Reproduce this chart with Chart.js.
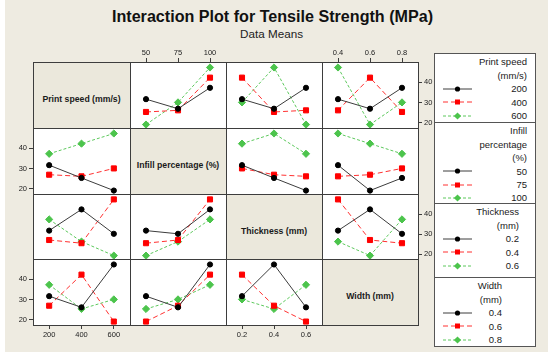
<!DOCTYPE html>
<html>
<head>
<meta charset="utf-8">
<script src="https://cdn.jsdelivr.net/npm/chart.js@4.4.1/dist/chart.umd.min.js"></script>
<style>
  html, body { margin: 0; padding: 0; }
  body { width: 550px; height: 357px; position: relative; overflow: hidden; background: #ffffff; font-family: "Liberation Sans", Arial, sans-serif; }
  .abs { position: absolute; }
  #panel { left: 5px; top: 0; width: 543px; height: 352px; background: #eeebe1; }
  .cell { position: absolute; background: #ffffff; }
  .diag { background: #ebe8dc; }
  .hl { position: absolute; height: 1px; background: #3d3d3d; }
  .vl { position: absolute; width: 1px; background: #3d3d3d; }
  .dlabel { position: absolute; text-align: center; font-weight: bold; font-size: 8.7px; line-height: 8.7px; color: #1a1a1a; white-space: nowrap; }
  .ltext { position: absolute; font-size: 9.5px; line-height: 9.5px; color: #1a1a1a; white-space: nowrap; text-align: right; }
  canvas { position: absolute; }
</style>
</head>
<body>
<div id="panel" class="abs"></div>
<div id="title" class="abs" style="left:0;width:545px;text-align:center;top:7.5px;font-weight:bold;font-size:16px;line-height:16px;color:#111;"><span id="titleSpan">Interaction Plot for Tensile Strength (MPa)</span></div>
<div id="sub" class="abs" style="left:0;width:543px;text-align:center;top:27.7px;font-size:11px;line-height:11px;color:#222;"><span id="subSpan">Data Means</span></div>
<div id="grid"></div>
<div id="legend"></div>
<script>
// ---------------- data ----------------
const factorNames = ['Print speed (mm/s)', 'Infill percentage (%)', 'Thickness (mm)', 'Width (mm)'];
const speedLevels = ['200', '400', '600'];
const infillLevels = ['50', '75', '100'];
const thicknessLevels = ['0.2', '0.4', '0.6'];
const widthLevels = ['0.4', '0.6', '0.8'];
const yTicks = [20, 30, 40];

// lines = levels of the row factor, x = levels of the column factor
const speedByInfill      = [[31.7, 27.0, 37.3], [25.4, 26.2, 42.3], [19.2, 30.1, 47.3]];
const speedByThickness   = [[31.7, 27.0, 37.3], [42.3, 25.4, 26.2], [30.1, 47.3, 19.2]];
const speedByWidth       = [[31.7, 27.0, 37.3], [26.2, 42.3, 25.4], [47.3, 19.2, 30.1]];
const infillBySpeed      = [[31.7, 25.4, 19.2], [27.0, 26.2, 30.1], [37.3, 42.3, 47.3]];
const infillByThickness  = [[31.7, 25.4, 19.2], [30.1, 27.0, 26.2], [42.3, 47.3, 37.3]];
const infillByWidth      = [[31.7, 19.2, 25.4], [26.2, 27.0, 30.1], [47.3, 42.3, 37.3]];
const thicknessBySpeed   = [[31.7, 42.3, 30.1], [27.0, 25.4, 47.3], [37.3, 26.2, 19.2]];
const thicknessByInfill  = [[31.7, 30.1, 42.3], [25.4, 27.0, 47.3], [19.2, 26.2, 37.3]];
const thicknessByWidth   = [[31.7, 42.3, 30.1], [47.3, 27.0, 25.4], [26.2, 19.2, 37.3]];
const widthBySpeed       = [[31.7, 26.2, 47.3], [27.0, 42.3, 19.2], [37.3, 25.4, 30.1]];
const widthByInfill      = [[31.7, 26.2, 47.3], [19.2, 27.0, 42.3], [25.4, 30.1, 37.3]];
const widthByThickness   = [[31.7, 47.3, 26.2], [42.3, 27.0, 19.2], [30.1, 25.4, 37.3]];

const legendTitles = [['Print speed', '(mm/s)'], ['Infill', 'percentage', '(%)'], ['Thickness', '(mm)'], ['Width', '(mm)']];

// ---------------- styles / layout ----------------
const levels = [speedLevels, infillLevels, thicknessLevels, widthLevels];
const cellData = [
  [null, speedByInfill, speedByThickness, speedByWidth],
  [infillBySpeed, null, infillByThickness, infillByWidth],
  [thicknessBySpeed, thicknessByInfill, null, thicknessByWidth],
  [widthBySpeed, widthByInfill, widthByThickness, null]
];
const XS = [33, 130, 226, 322, 418];
const YS = [62, 128, 194, 259, 325];
const Y_MIN = 17.5, Y_MAX = 50;
const AX_W = 30, AX_H = 20;
const LINE_COLORS = ['#3c3c3c', '#ff3030', '#5cc85c'];
const MARK_COLORS = ['#000000', '#ff0000', '#4cc44c'];
const STYLES = ['circle', 'rect', 'rectRot'];
const RADII = [2.6, 3.6, 3.6];
const DASHES = [[], [5, 3], [3, 2]];
const TICK_FONT = { family: '"Liberation Sans", Arial, sans-serif', size: 7.5 };

const grid = document.getElementById('grid');
for (let r = 0; r < 4; r++) {
  for (let c = 0; c < 4; c++) {
    const d = document.createElement('div');
    d.className = 'cell' + (r === c ? ' diag' : '');
    d.style.left = XS[c] + 'px'; d.style.top = YS[r] + 'px';
    d.style.width = (XS[c + 1] - XS[c]) + 'px'; d.style.height = (YS[r + 1] - YS[r]) + 'px';
    grid.appendChild(d);
  }
}
for (let i = 0; i < 5; i++) {
  const h = document.createElement('div'); h.className = 'hl';
  h.style.left = XS[0] + 'px'; h.style.width = (XS[4] - XS[0] + 1) + 'px'; h.style.top = YS[i] + 'px';
  grid.appendChild(h);
  const v = document.createElement('div'); v.className = 'vl';
  v.style.top = YS[0] + 'px'; v.style.height = (YS[4] - YS[0] + 1) + 'px'; v.style.left = XS[i] + 'px';
  grid.appendChild(v);
}
const diagCenters = [99.3, 165, 231, 296.7];
for (let i = 0; i < 4; i++) {
  const d = document.createElement('div'); d.className = 'dlabel';
  d.textContent = factorNames[i];
  d.style.left = XS[i] + 'px'; d.style.width = (XS[i + 1] - XS[i]) + 'px';
  d.style.top = (diagCenters[i] - 4.3) + 'px';
  grid.appendChild(d);
}

function makeCell(r, c) {
  const series = cellData[r][c];
  const showTop = r === 0 && (c === 1 || c === 3);
  const showBottom = r === 3 && (c === 0 || c === 2);
  const showLeft = c === 0 && (r === 1 || r === 3);
  const showRight = c === 3 && (r === 0 || r === 2);
  const showX = showTop || showBottom, showY = showLeft || showRight;
  const L = showLeft ? AX_W : 0, R = showRight ? AX_W : 0, T = showTop ? AX_H : 0, B = showBottom ? AX_H : 0;
  const cv = document.createElement('canvas');
  const w = XS[c + 1] - XS[c] + L + R, h = YS[r + 1] - YS[r] + T + B;
  cv.width = w; cv.height = h;
  cv.style.width = w + 'px'; cv.style.height = h + 'px';
  cv.style.left = (XS[c] - L) + 'px'; cv.style.top = (YS[r] - T) + 'px';
  document.body.appendChild(cv);
  new Chart(cv, {
    type: 'line',
    data: {
      labels: levels[c],
      datasets: series.map((vals, i) => ({
        data: vals,
        borderColor: LINE_COLORS[i],
        borderWidth: 1,
        borderDash: DASHES[i],
        pointStyle: STYLES[i],
        pointRadius: RADII[i],
        pointBackgroundColor: MARK_COLORS[i],
        pointBorderColor: MARK_COLORS[i],
        pointBorderWidth: 1,
        fill: false,
        tension: 0,
        clip: false
      }))
    },
    options: {
      responsive: false, animation: false, devicePixelRatio: 1, events: [],
      layout: { padding: 0, autoPadding: false },
      plugins: { legend: { display: false }, tooltip: { enabled: false } },
      scales: {
        x: {
          type: 'category', offset: true,
          display: showX,
          position: showTop ? 'top' : 'bottom',
          grid: { drawOnChartArea: false, drawTicks: true, tickLength: 4, color: '#3d3d3d', offset: false },
          border: { display: false },
          ticks: { font: TICK_FONT, color: '#222', padding: 1, maxRotation: 0, autoSkip: false },
          afterFit: s => { s.height = showX ? AX_H : 0; s.paddingLeft = 0; s.paddingRight = 0; }
        },
        y: {
          type: 'linear', min: Y_MIN, max: Y_MAX,
          display: showY,
          position: showRight ? 'right' : 'left',
          afterBuildTicks: s => { s.ticks = yTicks.map(v => ({ value: v })); },
          grid: { drawOnChartArea: false, drawTicks: true, tickLength: 4, color: '#3d3d3d' },
          border: { display: false },
          ticks: { font: TICK_FONT, color: '#222', padding: 2 },
          afterFit: s => { s.width = showY ? AX_W : 0; s.paddingTop = 0; s.paddingBottom = 0; }
        }
      }
    }
  });
}
for (let r = 0; r < 4; r++) for (let c = 0; c < 4; c++) if (r !== c) makeCell(r, c);

// ---------------- legend ----------------
const legend = document.getElementById('legend');
const LG = { left: 434, top: 53, right: 536, bottom: 347 };
const box = document.createElement('div');
box.className = 'abs';
box.style.cssText = `left:${LG.left}px;top:${LG.top}px;width:${LG.right - LG.left}px;height:${LG.bottom - LG.top}px;background:#fff;border:1px solid #555;box-sizing:border-box;`;
legend.appendChild(box);
const secTops = [53, 122, 203, 277];
const secRight = [527, 527, 519, 502];
const LINE_H = 13.4;
for (let s = 0; s < 4; s++) {
  if (s > 0) {
    const dv = document.createElement('div'); dv.className = 'hl';
    dv.style.left = LG.left + 'px'; dv.style.width = (LG.right - LG.left) + 'px'; dv.style.top = secTops[s] + 'px';
    dv.style.background = '#555';
    legend.appendChild(dv);
  }
  const lines = legendTitles[s].concat(levels[s]);
  lines.forEach((txt, k) => {
    const cy = secTops[s] + 9 + k * LINE_H;
    const t = document.createElement('div'); t.className = 'ltext';
    t.textContent = txt;
    t.style.right = (550 - secRight[s]) + 'px';
    t.style.top = (cy - 4.6) + 'px';
    legend.appendChild(t);
    const li = k - legendTitles[s].length;
    if (li >= 0) {
      const svgNS = 'http://www.w3.org/2000/svg';
      const svg = document.createElementNS(svgNS, 'svg');
      svg.setAttribute('width', '34'); svg.setAttribute('height', '10');
      svg.style.position = 'absolute'; svg.style.left = '441px'; svg.style.top = (cy - 5) + 'px';
      const ln = document.createElementNS(svgNS, 'line');
      ln.setAttribute('x1', '2'); ln.setAttribute('x2', '31'); ln.setAttribute('y1', '5'); ln.setAttribute('y2', '5');
      ln.setAttribute('stroke', LINE_COLORS[li]); ln.setAttribute('stroke-width', '1');
      if (DASHES[li].length) ln.setAttribute('stroke-dasharray', DASHES[li].join(','));
      svg.appendChild(ln);
      let m;
      if (li === 0) { m = document.createElementNS(svgNS, 'circle'); m.setAttribute('cx', '16.5'); m.setAttribute('cy', '5'); m.setAttribute('r', '2.6'); }
      else if (li === 1) { m = document.createElementNS(svgNS, 'rect'); m.setAttribute('x', '14'); m.setAttribute('y', '2.5'); m.setAttribute('width', '5'); m.setAttribute('height', '5'); }
      else { m = document.createElementNS(svgNS, 'polygon'); m.setAttribute('points', '16.5,1.4 20.1,5 16.5,8.6 12.9,5'); }
      m.setAttribute('fill', MARK_COLORS[li]);
      svg.appendChild(m);
      legend.appendChild(svg);
    }
  });
}

function fitWidth(spanId, target) {
  const sp = document.getElementById(spanId);
  const parent = sp.parentElement;
  const fs = parseFloat(parent.style.fontSize);
  const w = sp.getBoundingClientRect().width;
  if (w > 0) parent.style.fontSize = (fs * target / w).toFixed(2) + 'px';
}
fitWidth('titleSpan', 321);
fitWidth('subSpan', 63);
</script>
</body>
</html>
